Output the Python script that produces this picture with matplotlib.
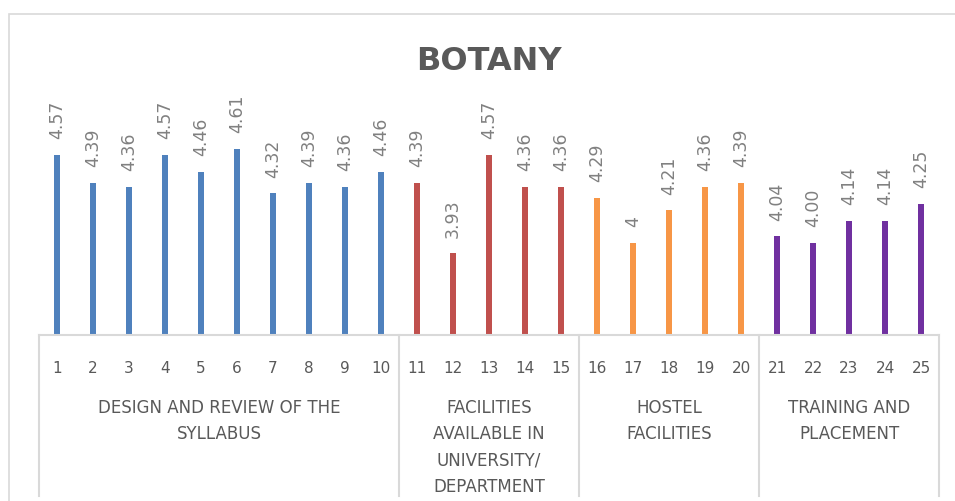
import matplotlib
matplotlib.use("Agg")
import matplotlib.pyplot as plt
from matplotlib.patches import Rectangle
import matplotlib.transforms as mtransforms

# data
design_vals = [4.57, 4.39, 4.36, 4.57, 4.46, 4.61, 4.32, 4.39, 4.36, 4.46]
facility_vals = [4.39, 3.93, 4.57, 4.36, 4.36]
hostel_vals = [4.29, 4.00, 4.21, 4.36, 4.39]
training_vals = [4.04, 4.00, 4.14, 4.14, 4.25]

value_labels = ["4.57", "4.39", "4.36", "4.57", "4.46", "4.61", "4.32", "4.39", "4.36", "4.46",
                "4.39", "3.93", "4.57", "4.36", "4.36",
                "4.29", "4", "4.21", "4.36", "4.39",
                "4.04", "4.00", "4.14", "4.14", "4.25"]

group_names = ["DESIGN AND REVIEW OF THE\nSYLLABUS",
               "FACILITIES\nAVAILABLE IN\nUNIVERSITY/\nDEPARTMENT",
               "HOSTEL\nFACILITIES",
               "TRAINING AND\nPLACEMENT"]
group_colors = ["#4F81BD", "#C0504D", "#F79646", "#7030A0"]
groups = [design_vals, facility_vals, hostel_vals, training_vals]

W, H = 955, 502
fig = plt.figure(figsize=(W / 100, H / 100), dpi=100)
fig.patch.set_facecolor("white")

# chart border (cropped on right and bottom)
fig.add_artist(Rectangle((9 / W, -0.1), 1.2, 1 - 15 / H + 0.1, transform=fig.transFigure,
                         fill=False, edgecolor="#d9d9d9", linewidth=1.2))

ax = fig.add_axes([39 / W, 1 - 336 / H, 900 / W, 231 / H])
ax.set_ylim(3.4, 4.9)
ax.set_xlim(0.5, 25.5)

x = 1
values, colors, tick_labels = [], [], []
for vals, col in zip(groups, group_colors):
    for v in vals:
        values.append(v)
        colors.append(col)
        tick_labels.append(str(x))
        x += 1
xs = list(range(1, len(values) + 1))

ax.bar(xs, [v - 3.4 for v in values], bottom=3.4, width=0.19, color=colors)

for xi, v, lab in zip(xs, values, value_labels):
    ax.annotate(lab, (xi, v), xytext=(0, 12), textcoords="offset points",
                rotation=90, ha="center", va="bottom", fontsize=12.5, color="#808080")

for s in ["top", "right", "left"]:
    ax.spines[s].set_visible(False)
ax.spines["bottom"].set_color("#d9d9d9")
ax.spines["bottom"].set_linewidth(1.5)
ax.set_yticks([])
ax.set_xticks(xs)
ax.set_xticklabels(tick_labels, fontsize=11, color="#595959")
ax.tick_params(axis="x", length=0, pad=18)

# multi-level category axis separators and group labels
trans = mtransforms.blended_transform_factory(ax.transData, ax.transAxes)
bottom_ax = -(497 - 336) / 231
start = 0.5
for vals, name in zip(groups, group_names):
    end = start + len(vals)
    ax.plot([start, start], [0, bottom_ax], transform=trans, color="#d9d9d9",
            linewidth=1.5, clip_on=False)
    ax.text((start + end) / 2, -(399 - 336) / 231, name, transform=trans,
            ha="center", va="top", fontsize=12, color="#595959",
            linespacing=1.6, clip_on=False)
    start = end
ax.plot([start, start], [0, bottom_ax], transform=trans, color="#d9d9d9",
        linewidth=1.5, clip_on=False)

fig.text(489 / W, 1 - 61 / H, "BOTANY", ha="center", va="center",
         fontsize=23, fontweight="bold", color="#595959")

fig.savefig("out.png", dpi=100)
